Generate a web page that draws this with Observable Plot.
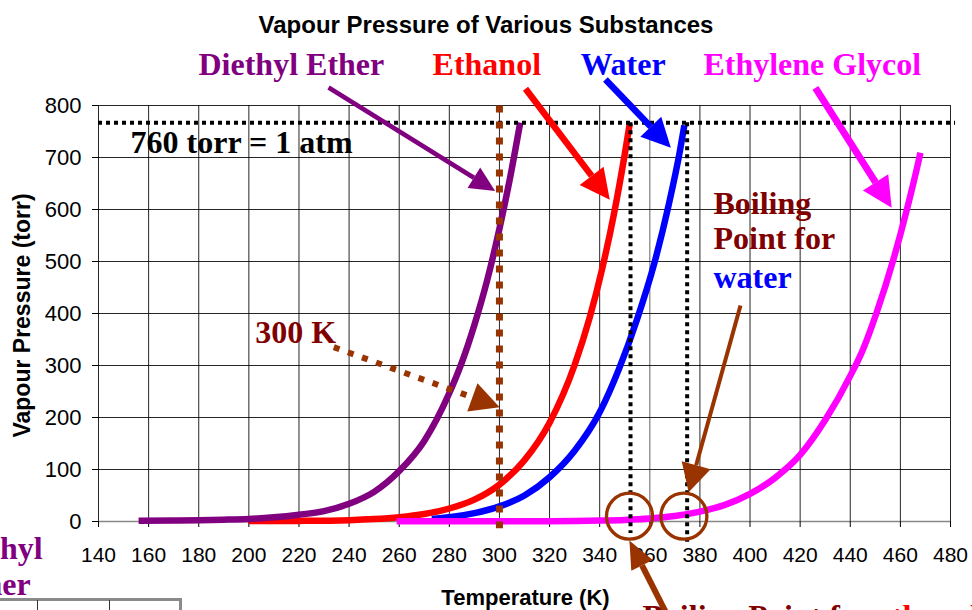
<!DOCTYPE html>
<html><head><meta charset="utf-8">
<script src="https://cdn.jsdelivr.net/npm/d3@7"></script>
<script src="https://cdn.jsdelivr.net/npm/@observablehq/plot@0.6"></script>
<style>
html,body{margin:0;padding:0;overflow:hidden;background:#fff;}
#wrap{position:relative;width:972px;height:610px;overflow:hidden;}
.tb{position:absolute;}
</style></head><body>
<div id="wrap"></div>
<script>
// ---- data ----
const xTicks = [140,160,180,200,220,240,260,280,300,320,340,360,380,400,420,440,460,480];
const yTicks = [0,100,200,300,400,500,600,700,800];

const etherK = [156,170,180,190,200,210,220,230,240,250,260,270,280,285,290,295,300,304,308.3];
const etherP = [1.5,2,2.5,3.5,5,8,13,20,34,57,97,155,247,306,378,462,563,655,767];

const ethanolK = [200,220,240,250,260,270,280,290,300,310,320,330,336,341,346,350,352];
const ethanolP = [0.8,1.2,2.6,4.6,8.2,14.4,25,42,71,118,190,301,392,486,599,706,765];

const waterK = [273,280,290,300,310,320,330,340,347.6,355,362,367.5,372,373.8];
const waterP = [5,8,16,29,50,85,136,210,292,390,500,608,712,762];

const glycolK = [259,280,300,320,340,350,360,370,380,390,400,410,420,430,440,445,450.4,457.4,462.7,467.3,468];
const glycolP = [0.5,0.5,0.5,0.6,1.7,3.1,5.8,10.5,19,32,53,84,128,195,280,330,400,507,602,694,709];

const atmP = 767;               // 760 torr line as drawn
const bpEthanolK = 352.3;
const bpWaterK = 374.9;
const roomK = 300;

const labels = [
  {text: "Diethyl Ether", x: 179.9, y: 857.7, color: "#800080"},
  {text: "Ethanol", x: 273.3, y: 857.7, color: "#FF0000"},
  {text: "Water", x: 332.3, y: 857.7, color: "#0000FF"},
  {text: "Ethylene Glycol", x: 381.4, y: 857.7, color: "#FF00FF"},
  {text: "760 torr = 1 atm", x: 152.8, y: 707.7, color: "#000000"},
  {text: "300 K", x: 202.6, y: 342.9, color: "#800000"},
  {text: "Boiling", x: 385.4, y: 591.7, color: "#800000"},
  {text: "Point for", x: 385.4, y: 523.1, color: "#800000"},
  {text: "water", x: 385.4, y: 449.4, color: "#0000FF"},
  {text: "Boiling Point for", x: 357.1, y: -203.8, color: "#800000"},
  {text: "ethanol", x: 450.9, y: -203.8, color: "#FF0000"},
  {text: "Diethyl", x: 117.7, y: -73, color: "#800080", anchor: "end"},
  {text: "Ether", x: 112.9, y: -142.3, color: "#800080", anchor: "end"}
];

const arrows = [
  {x1: 231.8, y1: 834.6, x2: 289.8, y2: 661.0, color: "#800080", w: 4.5, hl: 25, hw: 24},
  {x1: 310.4, y1: 832.1, x2: 336.8, y2: 664.6, color: "#FF0000", w: 6.5, hl: 30, hw: 30},
  {x1: 342.3, y1: 850.0, x2: 360.4, y2: 759.2, color: "#0000FF", w: 6.5, hl: 29, hw: 29},
  {x1: 426.1, y1: 834.0, x2: 450.1, y2: 652.1, color: "#FF00FF", w: 7, hl: 30, hw: 30},
  {x1: 233.9, y1: 335.2, x2: 289.2, y2: 238.8, color: "#993300", w: 6, hl: 29, hw: 30, dash: "6,9"},
  {x1: 396.2, y1: 415.4, x2: 378.5, y2: 108.3, color: "#993300", w: 4, hl: 28, hw: 30},
  {x1: 367.7, y1: -187.1, x2: 356.9, y2: -84.4, color: "#993300", w: 6, hl: 28, hw: 24}
];

const circles = [{x: 351.9, y: 10.2}, {x: 373.6, y: 10.2}];

// ---- helpers ----
const serif = "'Liberation Serif', 'Times New Roman', serif";
const sans = "'Liberation Sans', Arial, sans-serif";
const toRows = (K, P) => K.map((k, i) => ({K: k, P: P[i]}));

function head(len, wid) {
  return (color, context) => {
    const doc = (context && context.document) || document;
    const ns = "http://www.w3.org/2000/svg";
    const m = doc.createElementNS(ns, "marker");
    m.setAttribute("viewBox", `0 ${-wid / 2} ${len} ${wid}`);
    m.setAttribute("markerWidth", len);
    m.setAttribute("markerHeight", wid);
    m.setAttribute("markerUnits", "userSpaceOnUse");
    m.setAttribute("refX", 0);
    m.setAttribute("refY", 0);
    m.setAttribute("orient", "auto");
    m.setAttribute("overflow", "visible");
    const p = doc.createElementNS(ns, "path");
    p.setAttribute("d", `M0,${-wid / 2}L${len},0L0,${wid / 2}Z`);
    p.setAttribute("fill", color);
    p.setAttribute("stroke", "none");
    p.setAttribute("stroke-dasharray", "none");
    m.appendChild(p);
    return m;
  };
}

const curve = (K, P, color) => Plot.line(toRows(K, P), {
  x: "K", y: "P", stroke: color, strokeWidth: 6.5, curve: "monotone-x",
  strokeLinecap: "butt", strokeLinejoin: "round"
});

const chart = Plot.plot({
  width: 972, height: 610,
  marginLeft: 98, marginRight: 22, marginTop: 105, marginBottom: 89,
  style: {fontFamily: sans, background: "white", overflow: "visible", color: "black"},
  x: {domain: [140, 480]},
  y: {domain: [0, 800]},
  marks: [
    Plot.gridX(xTicks.filter(t => t !== 360), {stroke: "#000", strokeOpacity: 0.85, strokeWidth: 1}),
    Plot.gridX([360], {stroke: "#888", strokeOpacity: 1, strokeWidth: 1.3}),
    Plot.gridY(yTicks.filter(t => t !== 0), {stroke: "#000", strokeOpacity: 0.85, strokeWidth: 1}),
    Plot.ruleY([0], {stroke: "#888", strokeWidth: 1.3}),
    Plot.axisX(xTicks, {tickSize: 6, tickPadding: 20, fontSize: 21, label: null, tickFormat: d => String(d)}),
    Plot.axisY(yTicks, {tickSize: 6, tickPadding: 11, fontSize: 22, label: null, tickFormat: d => String(d)}),

    curve(ethanolK, ethanolP, "#FF0000"),
    curve(waterK, waterP, "#0000FF"),
    curve(glycolK, glycolP, "#FF00FF"),
    curve(etherK, etherP, "#800080"),

    Plot.ruleY([atmP], {x1: 140, x2: 482, stroke: "#000", strokeWidth: 4, strokeDasharray: "4,4"}),
    Plot.ruleX([bpEthanolK], {y1: atmP, y2: -23, stroke: "#000", strokeWidth: 4, strokeDasharray: "4,4"}),
    Plot.ruleX([bpWaterK], {y1: atmP, y2: -40, stroke: "#000", strokeWidth: 4, strokeDasharray: "4,4"}),
    Plot.ruleX([roomK], {y1: 799, y2: -14, stroke: "#993300", strokeWidth: 7, strokeDasharray: "7,9"}),

    Plot.dot(circles, {x: "x", y: "y", r: 23, stroke: "#993300", strokeWidth: 3.3, fill: "none"}),

    ...arrows.map(a => Plot.link([a], {
      x1: "x1", y1: "y1", x2: "x2", y2: "y2", stroke: a.color, strokeWidth: a.w,
      strokeDasharray: a.dash, strokeLinecap: "butt", markerEnd: head(a.hl, a.hw)
    })),

    ...labels.map(l => Plot.text([l], {
      x: "x", y: "y", text: "text", fill: l.color, fontFamily: serif, fontWeight: "bold",
      fontSize: 32, textAnchor: l.anchor || "start", lineAnchor: "bottom"
    })),

    Plot.text(["Vapour Pressure of Various Substances"], {
      text: d => d, frameAnchor: "top", textAnchor: "middle", dx: -38.5, dy: -73, lineAnchor: "bottom",
      fontWeight: "bold", fontSize: 24, fontFamily: sans, fill: "black"
    }),
    Plot.text(["Vapour Pressure (torr)"], {
      text: d => d, frameAnchor: "left", textAnchor: "middle", dx: -76, dy: 2, rotate: -90,
      fontWeight: "bold", fontSize: 23, fontFamily: sans, fill: "black"
    }),
    Plot.text(["Temperature (K)"], {
      text: d => d, frameAnchor: "bottom", textAnchor: "middle", dx: 1, dy: 83, lineAnchor: "bottom",
      fontWeight: "bold", fontSize: 22, fontFamily: sans, fill: "black"
    })
  ]
});

const wrap = document.getElementById("wrap");
wrap.appendChild(chart);

// fragment of a neighbouring table at the lower-left edge of the slide
const frag = [
  "left:0;top:598px;width:182px;height:3px;background:#8a8a8a;",
  "left:37px;top:600px;width:1px;height:12px;background:#333;",
  "left:109px;top:600px;width:1px;height:12px;background:#333;",
  "left:179px;top:598px;width:3px;height:14px;background:#8a8a8a;"
];
for (const s of frag) {
  const d = document.createElement("div");
  d.className = "tb";
  d.setAttribute("style", s);
  wrap.appendChild(d);
}
</script>
</body></html>
